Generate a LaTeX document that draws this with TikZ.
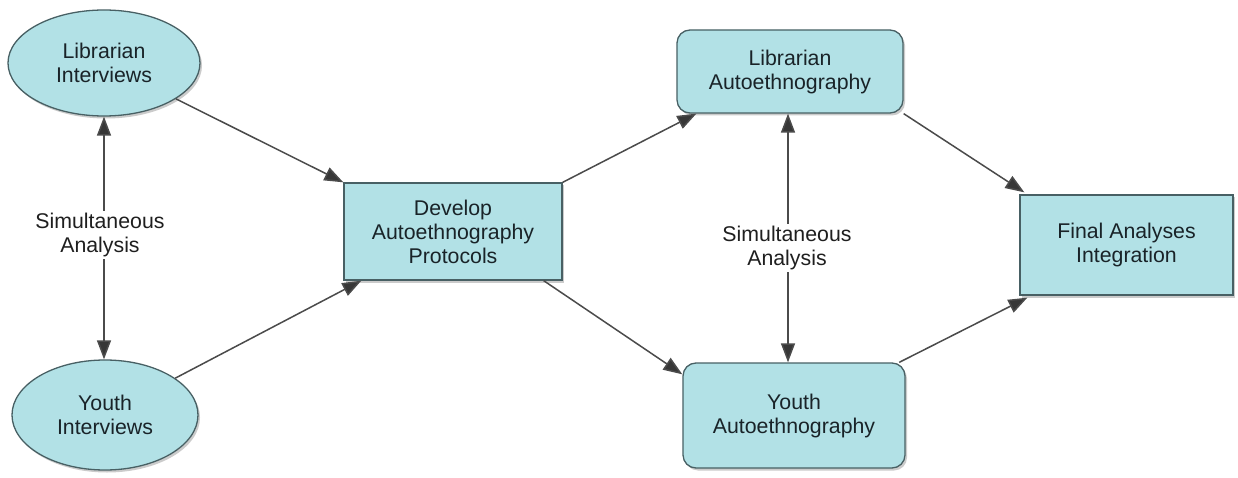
\documentclass[tikz,border=0pt]{standalone}
\usepackage{fontspec}
\setmainfont{Liberation Sans}
\usetikzlibrary{shapes.geometric,arrows.meta,shadows,calc}
\definecolor{boxfill}{RGB}{178,225,230}
\definecolor{boxdraw}{RGB}{72,96,100}
\definecolor{txt}{RGB}{25,35,40}
\definecolor{conn}{RGB}{75,75,75}
\definecolor{tipc}{RGB}{55,55,55}
\tikzset{
  base/.style={draw=boxdraw, line width=1.3pt, fill=boxfill, text=txt, align=center,
    font=\fontsize{21.3}{24}\selectfont, inner sep=0pt,
    drop shadow={shadow xshift=2pt, shadow yshift=-2.5pt, fill=black!45, opacity=0.45}},
  ell/.style={base, ellipse},
  sqbox/.style={base, rectangle},
  rbox/.style={base, rectangle, rounded corners=13pt},
  conn/.style={draw=conn, line width=1.5pt, -{Triangle[length=19pt,width=14pt,fill=tipc]}},
  dconn/.style={draw=conn, line width=1.5pt, {Triangle[length=19pt,width=14pt,fill=tipc]}-{Triangle[length=19pt,width=14pt,fill=tipc]}},
  lbl/.style={fill=white, text=black!88, align=center, font=\fontsize{21.3}{24}\selectfont, inner sep=2pt}
}
\begin{document}
\begin{tikzpicture}[x=1pt,y=-1pt]
\useasboundingbox[fill=white] (0,0) rectangle (1238,478);
\node[ell, minimum width=192pt, minimum height=106pt] (li) at (104,63) {Librarian\\Interviews};
\node[ell, minimum width=186pt, minimum height=110pt] (yi) at (105,415) {Youth\\Interviews};
\node[sqbox, minimum width=218pt, minimum height=97pt] (dev) at (453,231.5) {Develop\\Autoethnography\\Protocols};
\node[rbox, minimum width=226pt, minimum height=83pt] (la) at (790,71.5) {Librarian\\Autoethnography};
\node[rbox, minimum width=222pt, minimum height=105pt] (ya) at (794,415.5) {Youth\\Autoethnography};
\node[sqbox, minimum width=213pt, minimum height=100pt] (fin) at (1126.5,245) {Final Analyses\\Integration};

\coordinate (devin) at ($(dev.south west)+(18,0)$);
\coordinate (laout) at ($(la.south west)+(20,0)$);
\coordinate (devout) at ($(dev.south east)+(-19,0)$);
\coordinate (yain) at ($(ya.north west)+(0,12)$);
\coordinate (finin1) at ($(fin.north west)+(5,-2)$);
\coordinate (finin2) at ($(fin.south west)+(8,2)$);
\coordinate (lab) at ($(la.south)+(-2,0)$);
\coordinate (yat) at (lab|-ya.north);

\draw[dconn] (li.south) -- (li.south|-yi.north);
\node[lbl] (s1) at (100,235) {Simultaneous\\Analysis};
\draw[dconn] (lab) -- (yat);
\node[lbl] (s2) at (787,248) {Simultaneous\\Analysis};

\draw[conn] (li) -- (dev.north west);
\draw[conn] (yi) -- (devin);
\draw[conn] (dev.north east) -- (laout);
\draw[conn] (devout) -- (yain);
\draw[conn] (la.south east) -- (finin1);
\draw[conn] (ya) -- (finin2);
\end{tikzpicture}
\end{document}
